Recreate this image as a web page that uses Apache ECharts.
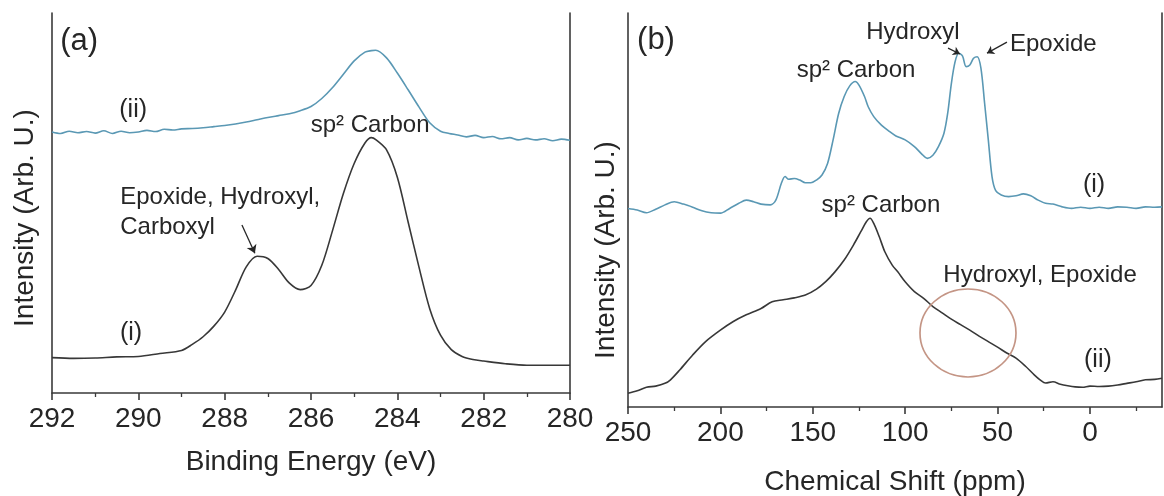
<!DOCTYPE html>
<html><head><meta charset="utf-8">
<script src="https://cdn.jsdelivr.net/npm/echarts@6.0.0/dist/echarts.min.js"></script>
<style>html,body{margin:0;padding:0;background:#fff}#c{width:1164px;height:496px}</style>
</head><body><div id="c"></div>
<script>
// ---------- Panel (a): XPS C1s ----------
const aEnergyI  = [292,291.5,291,290.5,290,289.5,289,288.75,288.5,288.25,288,287.75,287.5,287.25,287,286.75,286.5,286.25,286,285.75,285.5,285.25,285,284.75,284.6,284.5,284.25,284,283.75,283.5,283.25,283,282.75,282.5,282.25,282,281.5,281,280.5,280];
const aCurveI   = [9.3,9.1,9.2,9.5,9.6,10.4,11.2,12.8,14.8,17.6,21.3,27,33.2,36,35.4,32.5,28.9,27.2,28.3,33.6,42.8,52.5,60.4,65.8,67.2,66.7,64,56.8,45,33.2,22.2,15.2,11.4,9.6,8.8,8.4,7.7,7.3,7.3,7.3];
const aEnergyII = [292,291.8,291.6,291.4,291.2,291,290.8,290.6,290.4,290.2,290,289.8,289.6,289.4,289.2,289,288.75,288.5,288.25,288,287.75,287.5,287.25,287,286.75,286.5,286.25,286,285.75,285.5,285.25,285,284.75,284.6,284.5,284.25,284,283.75,283.5,283.25,283,282.8,282.6,282.4,282.2,282,281.8,281.6,281.4,281.2,281,280.8,280.6,280.4,280.2,280];
const aCurveII  = [68.7,68.3,68.9,68.5,68.8,68.4,69.0,68.3,68.9,68.5,68.7,69.1,68.8,69.4,69.2,69.5,69.6,69.8,70.1,70.4,70.8,71.3,71.9,72.5,73,73.5,74.3,75.4,77.5,80.4,83.9,87.4,89.7,90.1,90.2,88.2,84.2,79.8,75.3,71.1,68.9,68.3,67.9,67.4,67.8,67.2,67.5,66.9,67.2,66.6,67.0,66.6,66.9,66.4,66.8,66.5];

// ---------- Panel (b): 13C NMR ----------
const bShiftI  = [250,245,240,235,230,225,220,215,210,205,200,195,190,186,182,178,173,170,167,165,163,160,157,154,151,148,145,142,139,136,133,130,127,125,122,120,117,113,109,105,100,95,91,88,85,82,79,77,75,73,71,69,67,65,63,61,59,57,55,53,51,48,44,40,36,32,28,24,20,15,10,5,0,-5,-10,-15,-20,-25,-30,-35,-39];
const bCurveI  = [50.4,50.0,49.3,50.2,51.3,52.1,51.5,50.7,49.8,49.3,49.2,50.4,51.7,52.5,52.1,51.5,51.3,52.5,56.8,58.5,57.8,58,57.6,56.9,56.9,57.6,58.9,61.8,67.8,74.5,78.8,81.5,82.6,81.7,78.8,76.2,73.7,71.6,70.1,68.8,67.8,66.1,64.2,63.1,63.9,66.1,69.5,74.5,82.1,87.6,89.8,89.1,86.4,86.8,88.5,88.9,86,77.1,67.8,58.5,54.9,53.8,53.4,53.6,54.1,53.6,52.5,51.7,51.5,50.8,50.4,50.7,50.4,50.7,50.4,50.8,50.7,50.4,50.8,50.7,50.8];
const bShiftII = [250,245,240,235,230,227,222,215,208,200,193,186,178,172,166,160,154,148,143,138,133,128,124,121,119,117,114,111,107,104,100,95,90,85,80,75,70,65,60,55,50,45,40,35,30,27,24,20,16,12,8,4,0,-5,-10,-15,-20,-25,-30,-35,-39];
const bCurveII = [3.5,4.1,5.0,5.3,6.0,6.9,9.4,13.2,16.6,19.5,21.7,23.4,25,26.7,27.2,27.7,28.4,29.9,31.8,34.3,37.3,41.1,44.5,47,47.9,46.6,43.2,39.4,36,34.3,31.8,29.3,27.6,25.5,23.9,22.3,20.9,19.5,18,16.6,15.2,13.7,12.4,10.4,8.1,6.9,6.1,6.4,5.8,5.4,5.1,5.0,5.3,5.2,5.3,5.6,6.0,6.4,6.9,7.0,7.3];

// ---------- tick labels ----------
const bMajorTicks = [250,200,150,100,50,0];
const bMinorTicks = [225,175,125,75,25,-25];

const FONT = "'Liberation Sans', Arial, Helvetica, sans-serif";
const INK = '#262626';
const AX = '#3a3a3a';
const BLACK = '#383838';
const BLUE = '#5a98b4';

function pairs(xs, ys) { return xs.map((x, i) => [x, ys[i]]); }

const chart = echarts.init(document.getElementById('c'), null, { renderer: 'canvas' });

const axLine = { show: true, onZero: false, lineStyle: { color: AX, width: 1.6 } };
const lbl = { color: INK, fontSize: 28, fontFamily: FONT };
function yAx(grid, pos) {
  return { gridIndex: grid, type: 'value', min: 0, max: 100, position: pos,
    axisLine: axLine, axisTick: { show: false }, axisLabel: { show: false }, splitLine: { show: false } };
}

chart.setOption({
  animation: false,
  backgroundColor: '#fff',
  grid: [
    { left: 52, right: 594, top: 13, bottom: 103, containLabel: false, outerBoundsMode: 'none' },
    { left: 628, right: 2, top: 13, bottom: 89, containLabel: false, outerBoundsMode: 'none' }
  ],
  xAxis: [
    { gridIndex: 0, type: 'value', min: 280, max: 292, interval: 2, inverse: true, position: 'bottom',
      axisLine: axLine,
      axisTick: { show: true, length: 7, lineStyle: { color: AX, width: 1.6 } },
      minorTick: { show: true, splitNumber: 2, length: 4, lineStyle: { color: AX, width: 1.3 } },
      axisLabel: Object.assign({ margin: 12, showMinLabel: true, showMaxLabel: true }, lbl),
      splitLine: { show: false }, minorSplitLine: { show: false },
      name: 'Binding Energy (eV)', nameLocation: 'middle', nameGap: 55,
      nameTextStyle: { color: INK, fontSize: 28, fontFamily: FONT } },
    { gridIndex: 1, type: 'value', min: -39, max: 250, inverse: true, position: 'bottom',
      axisLine: axLine,
      axisTick: { show: true, customValues: bMajorTicks, length: 7, lineStyle: { color: AX, width: 1.6 } },
      axisLabel: Object.assign({ margin: 12, customValues: bMajorTicks }, lbl),
      splitLine: { show: false },
      name: 'Chemical Shift (ppm)', nameLocation: 'middle', nameGap: 61,
      nameTextStyle: { color: INK, fontSize: 28, fontFamily: FONT } },
    { gridIndex: 1, type: 'value', min: -39, max: 250, inverse: true, position: 'bottom', offset: 0,
      axisLine: { show: false, onZero: false },
      axisTick: { show: true, customValues: bMinorTicks, length: 4, lineStyle: { color: AX, width: 1.3 } },
      axisLabel: { show: false }, splitLine: { show: false } }
  ],
  yAxis: [ yAx(0, 'left'), yAx(0, 'right'), yAx(1, 'left'), yAx(1, 'right') ],
  series: [
    { type: 'line', xAxisIndex: 0, yAxisIndex: 0, data: pairs(aEnergyI, aCurveI), symbol: 'none', smooth: 0.3,
      lineStyle: { color: BLACK, width: 1.6 }, itemStyle: { color: BLACK },
      markLine: { silent: true, symbol: ['none', 'arrow'], symbolSize: 8, label: { show: false },
        lineStyle: { color: INK, width: 1.3, type: 'solid' },
        data: [[{ coord: [287.6, 44.2] }, { coord: [287.3, 36.8] }]] } },
    { type: 'line', xAxisIndex: 0, yAxisIndex: 0, data: pairs(aEnergyII, aCurveII), symbol: 'none', smooth: 0.3,
      lineStyle: { color: BLUE, width: 1.6 }, itemStyle: { color: BLUE } },
    { type: 'line', xAxisIndex: 1, yAxisIndex: 2, data: pairs(bShiftI, bCurveI), symbol: 'none', smooth: 0.3,
      lineStyle: { color: BLUE, width: 1.6 }, itemStyle: { color: BLUE },
      markLine: { silent: true, symbol: ['none', 'arrow'], symbolSize: 7, label: { show: false },
        lineStyle: { color: INK, width: 1.3, type: 'solid' },
        data: [[{ coord: [76.8, 91.1] }, { coord: [70.3, 89.6] }],
               [{ coord: [44.9, 92.6] }, { coord: [55.7, 89.8] }]] } },
    { type: 'line', xAxisIndex: 1, yAxisIndex: 2, data: pairs(bShiftII, bCurveII), symbol: 'none', smooth: 0.3,
      lineStyle: { color: BLACK, width: 1.6 }, itemStyle: { color: BLACK },
      markPoint: { silent: true, symbol: 'circle', symbolSize: [96, 88], label: { show: false },
        itemStyle: { color: 'rgba(0,0,0,0)', borderColor: '#c49585', borderWidth: 1.6 },
        data: [{ coord: [66, 18.8] }] } }
  ]
});

// ---------- annotations anchored in data coordinates ----------
const notes = [
  { t: '(a)', ax: [0, 0], at: [291.81, 92.4], align: 'left', size: 31 },
  { t: '(ii)', ax: [0, 0], at: [290.12, 74.5], align: 'center', size: 25 },
  { t: '(i)', ax: [0, 0], at: [290.17, 15.8], align: 'center', size: 25 },
  { t: 'sp² Carbon', ax: [0, 0], at: [284.63, 70.5], align: 'center', size: 24 },
  { t: 'Epoxide, Hydroxyl,', ax: [0, 0], at: [290.42, 51.6], align: 'left', size: 24 },
  { t: 'Carboxyl', ax: [0, 0], at: [290.42, 43.7], align: 'left', size: 24 },
  { t: '(b)', ax: [1, 2], at: [245.1, 93.1], align: 'left', size: 31 },
  { t: 'Hydroxyl', ax: [1, 2], at: [95.8, 95.2], align: 'center', size: 24 },
  { t: 'Epoxide', ax: [1, 2], at: [43.3, 92.1], align: 'left', size: 24 },
  { t: 'sp² Carbon', ax: [1, 2], at: [126.6, 85.5], align: 'center', size: 24 },
  { t: 'sp² Carbon', ax: [1, 2], at: [113.1, 51.3], align: 'center', size: 24 },
  { t: 'Hydroxyl, Epoxide', ax: [1, 2], at: [27, 33.5], align: 'center', size: 24 },
  { t: '(i)', ax: [1, 2], at: [-2.2, 56.3], align: 'center', size: 25 },
  { t: '(ii)', ax: [1, 2], at: [-4.3, 11.9], align: 'center', size: 25 }
];
const graphics = notes.map(n => {
  const p = chart.convertToPixel({ xAxisIndex: n.ax[0], yAxisIndex: n.ax[1] }, n.at);
  return { type: 'text', x: p[0], y: p[1], silent: true,
    style: { text: n.t, fontSize: n.size, fontFamily: FONT, fill: INK,
      align: n.align, textAlign: n.align, verticalAlign: 'middle', textVerticalAlign: 'middle' } };
});
// y-axis titles
[[25, 218], [606, 250]].forEach(p => {
  graphics.push({ type: 'text', x: p[0], y: p[1], rotation: Math.PI / 2, silent: true,
    style: { text: 'Intensity (Arb. U.)', fontSize: 28, fontFamily: FONT, fill: INK,
      align: 'center', textAlign: 'center', verticalAlign: 'middle', textVerticalAlign: 'middle' } });
});
chart.setOption({ graphic: graphics });
</script>
</body></html>
